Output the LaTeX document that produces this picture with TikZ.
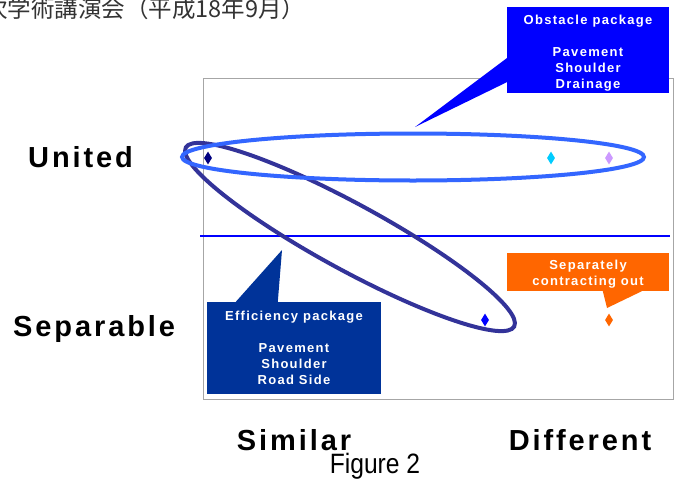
\documentclass[tikz,border=0pt]{standalone}
\usepackage{fontspec}
\setmainfont{Liberation Sans}
\newfontfamily\jpfont{Noto Sans CJK JP}
\newfontfamily\spacedfont[LetterSpace=10]{Liberation Sans}
\usetikzlibrary{shapes.geometric}

\definecolor{obsblue}{HTML}{0000FF}
\definecolor{effblue}{HTML}{003399}
\definecolor{ringblue}{HTML}{3366FF}
\definecolor{ringnavy}{HTML}{333399}
\definecolor{seporange}{HTML}{FF6600}
\definecolor{ptnavy}{HTML}{000080}
\definecolor{ptcyan}{HTML}{00CCFF}
\definecolor{ptlilac}{HTML}{CC99FF}

\tikzset{
  axislabel/.style={font=\spacedfont\bfseries\fontsize{29}{29}\selectfont, inner sep=0pt},
  boxtext/.style={font=\spacedfont\bfseries\fontsize{13}{16}\selectfont, text=white, align=center, inner sep=0pt},
  datapt/.style={diamond, minimum width=8pt, minimum height=13pt, inner sep=0pt}
}

\begin{document}
\begin{tikzpicture}[x=1pt,y=-1pt]
  \fill[white] (0,0) rectangle (679,482);
  \useasboundingbox (0,0) rectangle (679,482);

  \node[font=\jpfont\fontsize{23.5}{23.5}\selectfont, text=black!80, anchor=base west, inner sep=0pt] (title) at (-16,17) {次学術講演会（平成18年9月）};

  \draw[gray!70, line width=0.8] (203,78) rectangle (673,399);
  \draw[blue, line width=1.2] (200,236) -- (670,236);

  \draw[ringnavy, line width=4, rotate around={-28.6:(350,237)}] (350,237) ellipse [x radius=187, y radius=33];
  \draw[ringblue, line width=4] (413,157) ellipse [x radius=231, y radius=23.5];

  \node[datapt, fill=ptnavy] (p1) at (208,158) {};
  \node[datapt, fill=ptcyan] (p2) at (551,158) {};
  \node[datapt, fill=ptlilac] (p3) at (609,158) {};
  \node[datapt, fill=blue] (p4) at (485,320) {};
  \node[datapt, fill=seporange] (p5) at (609,320) {};

  \node[fill=obsblue, minimum width=162, minimum height=86] (obs) at (588,50) {};
  \node[boxtext] (obstext) at ([yshift=-3pt]obs.center)
    {Obstacle package\\[16pt]Pavement\\Shoulder\\Drainage};
  \coordinate (obstip) at (415,127);
  \fill[obsblue] ([yshift=35pt]obs.south west) -- (obstip) -- ([yshift=11pt]obs.south west) -- cycle;

  \node[fill=effblue, minimum width=174, minimum height=92] (eff) at (294,348) {};
  \node[boxtext] (efftext) at (eff.center)
    {Efficiency package\\[16pt]Pavement\\Shoulder\\Road Side};
  \coordinate (efftip) at (282,250);
  \fill[effblue] ([xshift=29pt]eff.north west) -- (efftip) -- ([xshift=71pt]eff.north west) -- cycle;

  \node[fill=seporange, minimum width=162, minimum height=38] (sep) at (588,272) {};
  \node[boxtext] (septext) at ([yshift=-2pt]sep.center) {Separately\\contracting out};
  \coordinate (septip) at (607,308);
  \fill[seporange] ([xshift=96pt]sep.south west) -- (septip) -- ([xshift=135pt]sep.south west) -- cycle;

  \node[axislabel, anchor=base west] (united) at (28,167) {United};
  \node[axislabel, anchor=base west] (separable) at (13,336) {Separable};
  \node[axislabel, anchor=base] (similar) at (294,450) {Similar};
  \node[axislabel, anchor=base] (different) at (580,450) {Different};
  \node[font=\fontsize{28}{28}\selectfont, xscale=0.88, transform shape, anchor=base, inner sep=0pt] (fig) at (375,473) {Figure 2};
\end{tikzpicture}
\end{document}
